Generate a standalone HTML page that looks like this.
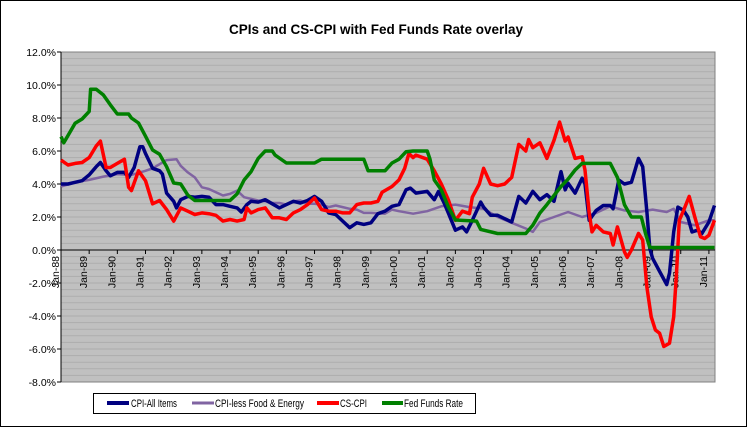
<!DOCTYPE html>
<html><head><meta charset="utf-8"><style>
body{margin:0;background:#fff;}
svg{display:block;font-family:"Liberation Sans",Arial,sans-serif;}
</style></head><body>
<svg id="chart" width="747" height="427" viewBox="0 0 747 427">
<rect x="0.5" y="0.5" width="746" height="426" fill="#fff" stroke="#000"/>
<text x="376" y="34" text-anchor="middle" font-size="13.5" font-weight="bold">CPIs and CS-CPI with Fed Funds Rate overlay</text>
<g id="plot"></g>
<g>
<rect x="93.5" y="393.5" width="382" height="20" fill="#fff" stroke="#000"/>
<g><line x1="107" y1="403" x2="129" y2="403" stroke="#000080" stroke-width="4"/><text x="131" y="407" font-size="11" textLength="46" lengthAdjust="spacingAndGlyphs">CPI-All Items</text></g>
<g><line x1="192" y1="403" x2="214" y2="403" stroke="#8064a2" stroke-width="3"/><text x="215" y="407" font-size="11" textLength="89" lengthAdjust="spacingAndGlyphs">CPI-less Food &amp; Energy</text></g>
<g><line x1="317" y1="403" x2="339" y2="403" stroke="#ff0000" stroke-width="4"/><text x="340" y="407" font-size="11" textLength="27" lengthAdjust="spacingAndGlyphs">CS-CPI</text></g>
<g><line x1="382" y1="403" x2="403" y2="403" stroke="#008000" stroke-width="4"/><text x="404" y="407" font-size="11" textLength="59" lengthAdjust="spacingAndGlyphs">Fed Funds Rate</text></g>
</g>
</svg>
<script>
const yTicks=[12,10,8,6,4,2,0,-2,-4,-6,-8];
const xTickYears=[88,89,90,91,92,93,94,95,96,97,98,99,0,1,2,3,4,5,6,7,8,9,10,11];
const fedDates=[1988.0,1988.1,1988.5,1988.75,1989.0,1989.05,1989.25,1989.5,1989.75,1990.0,1990.4,1990.5,1990.75,1991.0,1991.25,1991.5,1991.75,1992.0,1992.25,1992.5,1992.75,1994.0,1994.25,1994.5,1994.75,1995.0,1995.25,1995.5,1995.6,1996.0,1997.0,1997.25,1998.75,1998.9,1999.5,1999.75,2000.0,2000.25,2000.5,2001.0,2001.1,2001.25,2001.5,2001.75,2002.0,2002.75,2002.9,2003.5,2004.5,2004.75,2005.0,2005.25,2005.5,2005.75,2006.0,2006.25,2006.5,2007.5,2007.75,2008.0,2008.25,2008.6,2008.75,2008.9,2011.2];
const fedValues=[6.87,6.5,7.68,7.94,8.4,9.74,9.74,9.4,8.8,8.24,8.24,8.0,7.7,6.9,6.06,5.8,5.05,4.06,4.0,3.33,3.0,3.0,3.4,4.24,4.75,5.55,6.0,6.0,5.75,5.27,5.27,5.5,5.5,4.8,4.8,5.27,5.5,5.96,6.0,6.0,5.5,4.24,3.64,2.62,1.82,1.75,1.25,1.0,1.0,1.5,2.24,2.75,3.3,3.85,4.3,4.85,5.25,5.25,4.4,2.75,2.0,2.0,1.0,0.15,0.15];
const cpiDates=[1988.0,1988.25,1988.5,1988.75,1989.0,1989.25,1989.4,1989.6,1989.75,1990.0,1990.25,1990.4,1990.6,1990.8,1990.9,1991.0,1991.25,1991.5,1991.6,1991.75,1992.0,1992.1,1992.25,1992.5,1992.75,1993.0,1993.25,1993.5,1993.75,1994.0,1994.25,1994.4,1994.6,1994.75,1995.0,1995.25,1995.5,1995.75,1996.0,1996.25,1996.5,1996.75,1997.0,1997.25,1997.5,1997.75,1998.0,1998.25,1998.5,1998.75,1999.0,1999.25,1999.5,1999.75,2000.0,2000.25,2000.4,2000.6,2001.0,2001.25,2001.4,2001.6,2001.75,2002.0,2002.25,2002.4,2002.6,2002.9,2003.0,2003.25,2003.5,2003.75,2004.0,2004.25,2004.5,2004.75,2005.0,2005.25,2005.5,2005.75,2005.9,2006.0,2006.25,2006.5,2006.6,2006.75,2007.0,2007.25,2007.5,2007.6,2007.8,2008.0,2008.25,2008.5,2008.65,2008.8,2008.9,2009.0,2009.25,2009.5,2009.6,2009.75,2009.9,2010.1,2010.25,2010.4,2010.6,2010.75,2011.0,2011.2];
const cpiValues=[4.0,4.0,4.1,4.2,4.55,5.05,5.3,4.8,4.5,4.7,4.7,4.4,5.0,6.26,6.26,5.85,4.95,4.8,4.6,3.45,2.95,2.55,3.05,3.25,3.2,3.25,3.2,2.75,2.75,2.65,2.55,2.3,2.75,2.95,2.9,3.05,2.8,2.55,2.75,2.95,2.85,3.0,3.25,2.95,2.25,2.15,1.75,1.35,1.65,1.55,1.65,2.2,2.35,2.65,2.75,3.65,3.75,3.45,3.55,3.05,3.55,2.85,2.25,1.2,1.4,1.1,1.8,2.9,2.6,2.1,2.1,1.9,1.7,3.25,2.85,3.55,3.05,3.35,2.95,4.75,3.65,4.05,3.45,4.35,4.0,1.8,2.4,2.7,2.7,2.5,4.24,4.0,4.1,5.55,5.05,2.3,0.1,-0.5,-1.3,-2.1,-1.4,1.1,2.6,2.4,2.0,1.1,1.2,1.0,1.7,2.7];
const coreDates=[1988.0,1988.5,1989.0,1989.5,1990.0,1990.5,1991.0,1991.25,1991.5,1991.75,1992.1,1992.25,1992.5,1992.75,1993.0,1993.25,1993.5,1993.75,1994.0,1994.25,1994.5,1994.75,1995.0,1995.25,1995.5,1995.75,1996.0,1996.25,1996.5,1996.75,1997.0,1997.25,1997.5,1997.75,1998.0,1998.25,1998.5,1998.75,1999.0,1999.5,1999.75,2000.0,2000.5,2001.0,2001.5,2002.0,2002.5,2003.0,2003.5,2004.0,2004.5,2004.75,2005.0,2005.5,2006.0,2006.5,2007.0,2007.5,2008.0,2008.5,2009.0,2009.5,2009.75,2010.0,2010.5,2010.75,2011.0,2011.2];
const coreValues=[3.85,4.1,4.25,4.45,4.6,4.55,4.8,4.95,5.2,5.45,5.5,5.1,4.7,4.4,3.8,3.7,3.5,3.3,3.4,3.6,3.2,3.1,3.0,2.95,2.85,2.85,2.75,2.95,3.0,2.8,2.8,2.75,2.6,2.7,2.6,2.5,2.45,2.25,2.25,2.2,2.45,2.35,2.2,2.35,2.65,2.75,2.6,2.5,2.0,1.65,1.3,1.1,1.7,2.0,2.3,2.0,2.25,2.65,2.4,2.3,2.45,2.3,2.5,1.7,1.5,1.65,1.8,1.8];
const csDates=[1988.0,1988.25,1988.5,1988.75,1989.0,1989.25,1989.4,1989.6,1989.75,1990.0,1990.25,1990.4,1990.5,1990.75,1991.0,1991.25,1991.5,1991.75,1992.0,1992.25,1992.5,1992.75,1993.0,1993.25,1993.5,1993.75,1994.0,1994.25,1994.5,1994.6,1994.75,1995.0,1995.25,1995.5,1995.75,1996.0,1996.25,1996.5,1996.75,1997.0,1997.25,1997.5,1997.75,1998.0,1998.25,1998.5,1998.75,1999.0,1999.25,1999.4,1999.75,2000.0,2000.2,2000.35,2000.5,2000.6,2001.0,2001.25,2001.5,2001.75,2002.0,2002.25,2002.5,2002.6,2002.85,2003.0,2003.25,2003.5,2003.75,2004.0,2004.25,2004.5,2004.6,2004.75,2005.0,2005.25,2005.5,2005.7,2005.9,2006.0,2006.25,2006.5,2006.6,2006.75,2006.85,2007.0,2007.25,2007.5,2007.6,2007.75,2008.0,2008.1,2008.25,2008.5,2008.65,2008.8,2008.95,2009.1,2009.25,2009.4,2009.6,2009.75,2009.85,2009.95,2010.1,2010.3,2010.5,2010.7,2010.85,2011.0,2011.2];
const csValues=[5.45,5.15,5.25,5.3,5.6,6.3,6.6,5.0,5.0,5.25,5.5,3.8,3.6,4.8,4.2,2.8,3.0,2.45,1.75,2.55,2.35,2.15,2.25,2.2,2.1,1.75,1.85,1.75,1.85,2.55,2.25,2.45,2.55,1.95,1.95,1.85,2.25,2.45,2.75,3.15,2.45,2.35,2.35,2.25,2.25,2.75,2.85,2.85,2.95,3.5,3.85,4.25,4.95,5.85,5.6,5.75,5.5,4.8,4.0,3.05,1.8,2.35,2.2,3.2,4.0,4.95,4.0,3.9,4.0,4.4,6.4,6.0,6.7,6.2,6.5,5.55,6.65,7.75,6.6,6.85,5.55,5.65,4.85,2.25,1.1,1.5,1.1,1.0,0.3,1.4,-0.1,-0.45,0.0,1.0,0.6,-2.25,-4.05,-4.85,-5.05,-5.85,-5.65,-4.05,-1.4,1.8,2.4,3.25,2.0,0.8,0.7,0.9,1.8];

const L=61,R=715,T=52,B=382,YMIN=-8,YMAX=12;
const yPx=v=>B-(v-YMIN)/(YMAX-YMIN)*(B-T);
const xPx=yr=>L+(yr-1988)*28.17;
const NS='http://www.w3.org/2000/svg';
const plot=document.getElementById('plot');
function mk(tag,attrs,parent){const e=document.createElementNS(NS,tag);for(const k in attrs)e.setAttribute(k,attrs[k]);(parent||plot).appendChild(e);return e;}
const bg=mk('rect',{x:L,y:T,width:R-L,height:B-T,fill:'#c0c0c0'});


for(let v=YMIN;v<=YMAX+0.001;v+=0.4){
  const g=mk('line',{x1:L,x2:R,y1:yPx(v),y2:yPx(v),stroke:'#adadad','stroke-width':1});
  
  
}
mk('rect',{x:L,y:T,width:R-L,height:B-T,fill:'none',stroke:'#808080'});
const yax=mk('line',{x1:L,x2:L,y1:T,y2:B,stroke:'#000'});


yTicks.forEach(v=>{
  const y=yPx(v);
  mk('line',{x1:L-4,x2:L,y1:y,y2:y,stroke:'#000'});
  const t=mk('text',{x:L-5,y:y+4,'text-anchor':'end','font-size':10.5});
  t.textContent=v.toFixed(1)+'%';
  
  
});
const x0=yPx(0);
const xax=mk('line',{x1:L,x2:R,y1:x0,y2:x0,stroke:'#000'});


xTickYears.forEach((yy,i)=>{
  const x=xPx(1988+i);
  mk('line',{x1:x,x2:x,y1:x0,y2:x0+4,stroke:'#000'});
  const t=mk('text',{transform:`translate(${x-2},${x0+6}) rotate(-90)`,'text-anchor':'end','font-size':10.5});
  t.textContent='Jan-'+String(yy).padStart(2,'0');
  
  
});
function series(d,v,color,w,name){
  const p=d.map((yr,i)=>(i?'L':'M')+xPx(yr).toFixed(1)+','+yPx(v[i]).toFixed(1)).join(' ');
  const e=mk('path',{d:p,fill:'none',stroke:color,'stroke-width':w,'stroke-linejoin':'round'});
  
  
}
series(coreDates,coreValues,'#8064a2',2.5,'cpi-core-line');
series(cpiDates,cpiValues,'#000080',3.5,'cpi-all-items-line');
series(csDates,csValues,'#ff0000',3.5,'cs-cpi-line');
series(fedDates,fedValues,'#008000',3.5,'fed-funds-line');
</script>
</body></html>
